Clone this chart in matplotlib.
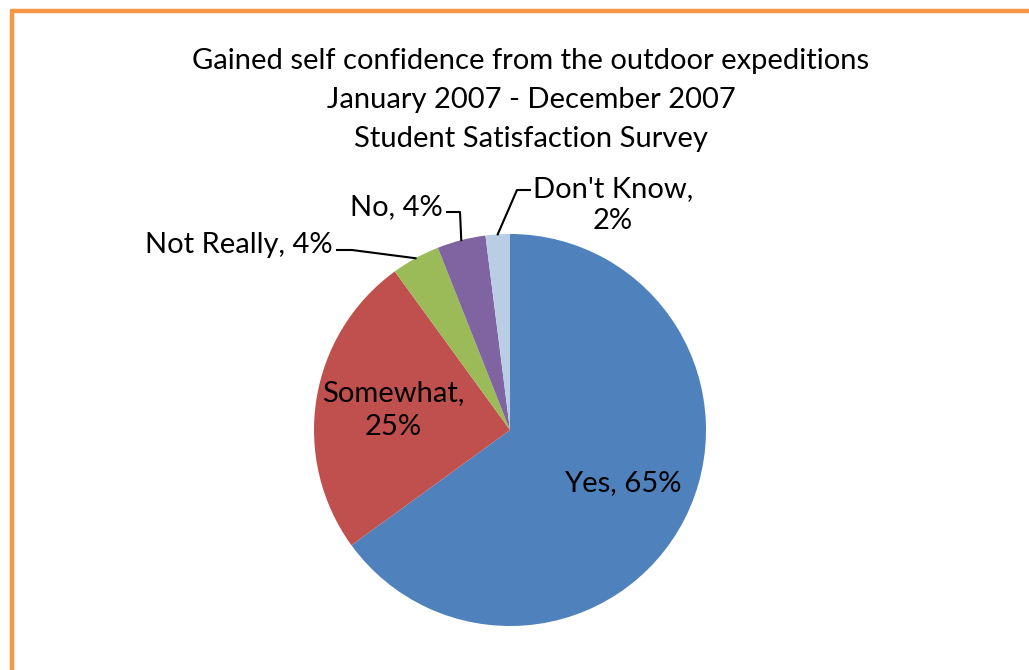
import numpy as np
import matplotlib
matplotlib.use("agg")
from matplotlib import pyplot as plt

# survey answers
labels = ["Yes", "Somewhat", "Not Really", "No", "Don't Know"]
values = [65, 25, 4, 4, 2]
colors = ["#4F81BD", "#C0504D", "#9BBB59", "#8064A2", "#B9CDE5"]
title_lines = ["Gained self confidence from the outdoor expeditions",
               "January 2007 - December 2007",
               "Student Satisfaction Survey"]

W, H = 1029, 670
plt.rcParams["font.family"] = ["Lato", "DejaVu Sans"]
fs = 21

fig = plt.figure(figsize=(W / 100, H / 100), dpi=100)

# pie drawn in its own axes (y up), pixel units
pax = fig.add_axes([0, 0, 1, 1])
cx, cy, r = 510, H - 430, 196
wedges, _ = pax.pie(values, colors=colors, startangle=90, counterclock=False,
                    center=(cx, cy), radius=r, frame=True,
                    wedgeprops=dict(linewidth=0))
pax.set_xlim(0, W)
pax.set_ylim(0, H)
pax.axis("off")

# overlay axes for text, y down in pixels
ax = fig.add_axes([0, 0, 1, 1])
ax.set_xlim(0, W)
ax.set_ylim(H, 0)
ax.axis("off")

def edge_point(w):
    a = np.deg2rad((w.theta1 + w.theta2) / 2)
    return cx + r * np.cos(a), H - (cy + r * np.sin(a))

# inside labels
ax.text(623, 483, "Yes, 65%", ha="center", va="center", fontsize=fs)
ax.text(393, 410, "Somewhat,\n25%", ha="center", va="center", fontsize=fs, linespacing=1.35)

# outside labels with leader lines
ax.text(333, 245, "Not Really, 4%", ha="right", va="center", fontsize=fs)
ex, ey = edge_point(wedges[2])
ax.plot([337, 352, ex], [250, 250, ey], color="black", lw=1.5)

ax.text(443, 207, "No, 4%", ha="right", va="center", fontsize=fs)
ex, ey = edge_point(wedges[3])
ax.plot([447, 460, ex], [212, 212, ey], color="black", lw=1.5)

ax.text(613, 205, "Don't Know,\n2%", ha="center", va="center", fontsize=fs, linespacing=1.3)
ex, ey = edge_point(wedges[4])
ax.plot([530, 517, ex], [190, 190, ey], color="black", lw=1.5)

# title
for i, line in enumerate(title_lines):
    ax.text(531, 61 + 39 * i, line, ha="center", va="center", fontsize=fs)

# orange frame (left and top only visible)
ax.plot([12, 12], [10, H], color="#F79646", lw=3.2, solid_capstyle="butt")
ax.plot([10, W], [11, 11], color="#F79646", lw=3.2, solid_capstyle="butt")

fig.savefig("out.png", dpi=100)
